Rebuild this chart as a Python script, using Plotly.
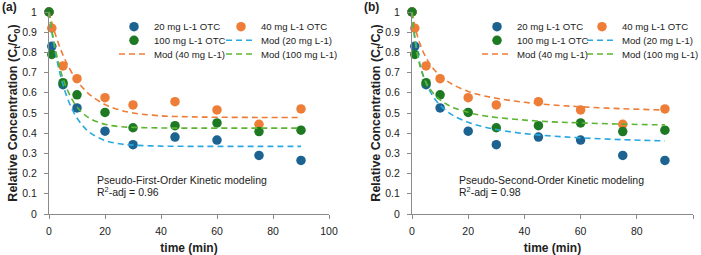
import plotly.graph_objects as go
from plotly.subplots import make_subplots

# ---------------- data ----------------
t_exp = [0, 1, 5, 10, 20, 30, 45, 60, 75, 90]
c20 = [1.00, 0.83, 0.64, 0.525, 0.41, 0.343, 0.381, 0.366, 0.29, 0.265]
c40 = [1.00, 0.92, 0.733, 0.67, 0.576, 0.54, 0.556, 0.515, 0.444, 0.52]
c100 = [1.00, 0.79, 0.65, 0.59, 0.503, 0.427, 0.437, 0.451, 0.408, 0.415]

t_mod = [0, 0.5, 1, 2, 3, 4, 5, 6, 8, 10, 12.5, 15, 20, 25, 30, 40, 50, 60, 75, 90]
# pseudo-first-order model curves (panel a)
pfo20 = [1.0, 0.950, 0.904, 0.822, 0.751, 0.691, 0.640, 0.596, 0.526, 0.475, 0.430, 0.399,
         0.364, 0.348, 0.341, 0.336, 0.335, 0.335, 0.335, 0.335]
pfo40 = [1.0, 0.973, 0.948, 0.901, 0.859, 0.821, 0.787, 0.756, 0.703, 0.661, 0.618, 0.586,
         0.542, 0.516, 0.500, 0.486, 0.481, 0.479, 0.478, 0.478]
pfo100 = [1.0, 0.953, 0.910, 0.834, 0.770, 0.716, 0.671, 0.633, 0.573, 0.530, 0.494, 0.470,
          0.444, 0.433, 0.429, 0.426, 0.425, 0.425, 0.425, 0.425]
# pseudo-second-order model curves (panel b)
pso20 = [1.0, 0.933, 0.879, 0.795, 0.733, 0.686, 0.648, 0.618, 0.572, 0.539, 0.508, 0.485,
         0.454, 0.433, 0.418, 0.398, 0.386, 0.377, 0.368, 0.362]
pso40 = [1.0, 0.963, 0.931, 0.878, 0.836, 0.802, 0.774, 0.750, 0.713, 0.685, 0.658, 0.637,
         0.607, 0.587, 0.573, 0.553, 0.540, 0.531, 0.521, 0.515]
pso100 = [1.0, 0.924, 0.866, 0.783, 0.725, 0.684, 0.652, 0.627, 0.591, 0.565, 0.542, 0.525,
          0.503, 0.488, 0.478, 0.465, 0.456, 0.451, 0.445, 0.441]

exp_names = ["20 mg L-1 OTC", "40 mg L-1 OTC", "100 mg L-1 OTC"]
mod_names = ["Mod (20 mg L-1)", "Mod (40 mg L-1)", "Mod (100 mg L-1)"]
panel_labels = ["(a)", "(b)"]
model_texts = ["Pseudo-First-Order Kinetic modeling", "Pseudo-Second-Order Kinetic modeling"]
r2_texts = ["R<sup>2</sup>-adj = 0.96", "R<sup>2</sup>-adj = 0.98"]
x_ticks = [0, 20, 40, 60, 80, 100]

# ---------------- style ----------------
FONT = "Liberation Sans, Arial, sans-serif"
dot_colors = ["#1D6391", "#EE7D37", "#1D7A22"]
line_colors = ["#2AA8E0", "#EE7D37", "#5CB531"]
AXC = "#8A8A8A"
TXT = "#222222"

W, H = 701, 255
ML, MR, MT, MB = 49, 8, 12, 41
PW = W - ML - MR
PH = H - MT - MB

fig = make_subplots(rows=1, cols=2)

exp_series = [c20, c40, c100]
mods = [[pfo20, pfo40, pfo100], [pso20, pso40, pso100]]

# legend grid (row, col) of each entry: 20 OTC, 40 OTC / 100 OTC, Mod20 / Mod40, Mod100
exp_cells = [(0, 0), (0, 1), (1, 0)]
mod_cells = [(1, 1), (2, 0), (2, 1)]
legend_rows_px = [26.7, 40.3, 54.0]
legend_cols_text_px = [[147, 254], [510, 615]]

layout_leg = {}


def legend_key(p, cell):
    idx = 1 + 6 * p + cell[0] * 2 + cell[1]
    key = "legend" if idx == 1 else f"legend{idx}"
    tx = legend_cols_text_px[p][cell[1]] - 33
    layout_leg[key] = dict(
        orientation="v", x=(tx - ML) / PW, xanchor="left",
        y=(214 - legend_rows_px[cell[0]]) / PH, yanchor="middle",
        bgcolor="rgba(0,0,0,0)", font=dict(family=FONT, size=9.6, color=TXT),
        itemwidth=30, borderwidth=0)
    return key


for p in range(2):
    for i in range(3):
        fig.add_trace(go.Scatter(
            x=t_exp, y=exp_series[i], mode="markers", name=exp_names[i],
            marker=dict(color=dot_colors[i], size=9.5),
            cliponaxis=False, legend=legend_key(p, exp_cells[i])), row=1, col=p + 1)
    for i in range(3):
        fig.add_trace(go.Scatter(
            x=t_mod, y=mods[p][i], mode="lines", name=mod_names[i],
            line=dict(color=line_colors[i], width=1.6, dash="6px,4px", shape="spline"),
            cliponaxis=False, legend=legend_key(p, mod_cells[i])), row=1, col=p + 1)

# domains
xa_dom = [0, 280 / PW]
xb_dom = [(412 - ML) / PW, 1.0]

axis_common = dict(showline=True, linecolor=AXC, linewidth=1, ticks="outside", ticklen=4,
                   tickcolor=AXC, showgrid=False, zeroline=False, automargin=False,
                   tickfont=dict(family=FONT, size=10.5, color=TXT))
for k, dom in zip([1, 2], [xa_dom, xb_dom]):
    fig.update_xaxes(domain=dom, range=[0, 100], tickvals=x_ticks, ticklabelstandoff=3,
                     title=dict(text="<b>time (min)</b>", font=dict(family=FONT, size=12, color=TXT),
                                standoff=13),
                     row=1, col=k, **axis_common)
    fig.update_yaxes(range=[0, 1], dtick=0.1, ticklabelstandoff=5,
                     title=dict(text="<b>Relative Concentration (C<sub>t</sub>/C<sub>0</sub>)</b>",
                                font=dict(family=FONT, size=12.5, color=TXT), standoff=1),
                     row=1, col=k, **axis_common)

annotations = []
for p, (xref, yref, lx) in enumerate([("x", "y", 16.4), ("x2", "y2", 16.1)]):
    annotations.append(dict(x=lx, y=(214 - 179.7) / PH, xref=xref, yref=yref,
                            text=model_texts[p], showarrow=False, xanchor="left",
                            yanchor="middle", font=dict(family=FONT, size=10.5, color=TXT)))
    annotations.append(dict(x=lx, y=(214 - 191.5) / PH, xref=xref, yref=yref,
                            text=r2_texts[p], showarrow=False, xanchor="left",
                            yanchor="middle", font=dict(family=FONT, size=10.5, color=TXT)))
for p, px in enumerate([0, 362]):
    annotations.append(dict(x=(px - ML) / PW, y=(214 - 7) / PH, xref="paper", yref="paper",
                            text=f"<b>{panel_labels[p]}</b>", showarrow=False, xanchor="left",
                            yanchor="middle", font=dict(family=FONT, size=12, color=TXT)))

fig.update_layout(width=W, height=H,
                  margin=dict(l=ML, r=MR, t=MT, b=MB, autoexpand=False),
                  paper_bgcolor="white", plot_bgcolor="white", showlegend=True,
                  annotations=annotations, font=dict(family=FONT, color=TXT), **layout_leg)

fig.write_html("out.html")
